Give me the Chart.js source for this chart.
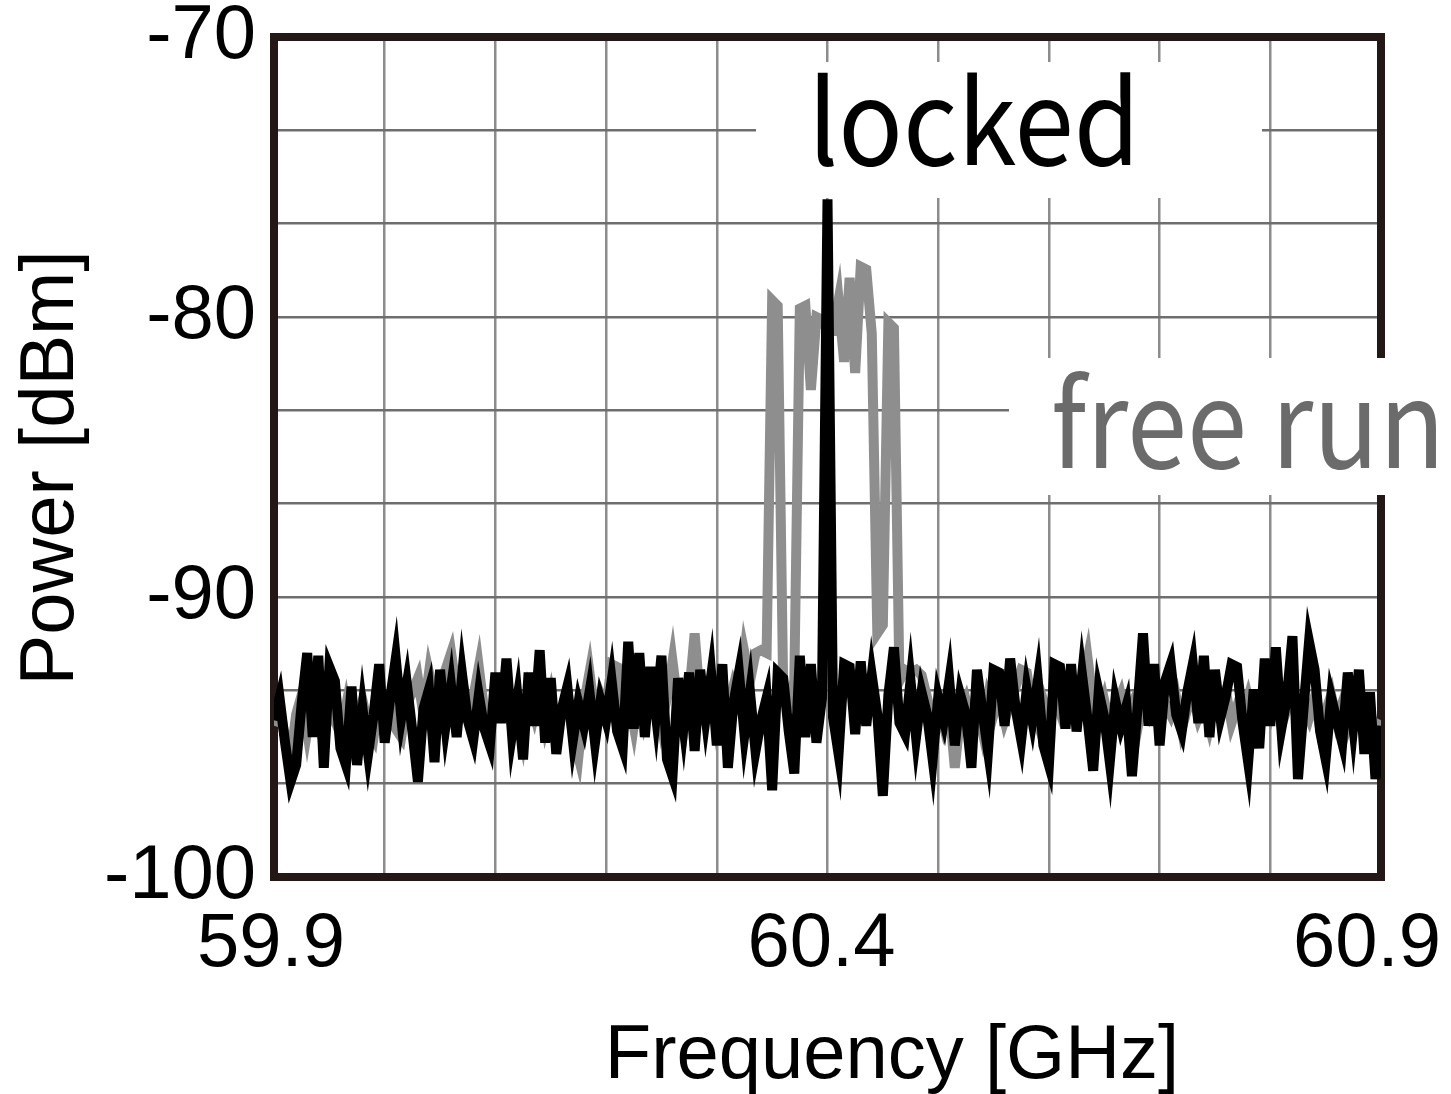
<!DOCTYPE html>
<html>
<head>
<meta charset="utf-8">
<script src="https://cdn.jsdelivr.net/npm/chart.js@4"></script>
<style>html,body{margin:0;padding:0;background:#fff;}canvas{display:block;}</style>
</head>
<body>
<canvas id="c" width="1451" height="1094"></canvas>
<script>
// ---- data ----
const freqStart = 59.9;   // GHz, first sample
const freqStep = 0.005;   // GHz between samples

const lockedPower = [
-94.4,-93.6,-95.2,-96.6,-96.0,-93.8,-92.0,-95.0,-92.1,-96.1,
-92.5,-93.0,-95.4,-96.0,-93.2,-96.0,-94.0,-95.6,-94.2,-92.4,
-95.2,-93.6,-92.2,-94.3,-93.1,-94.8,-96.6,-94.0,-93.3,-95.9,
-92.6,-94.6,-93.2,-95.0,-92.8,-94.4,-95.1,-93.5,-94.7,-95.3,
-92.7,-94.5,-92.2,-94.9,-93.6,-95.8,-92.7,-94.6,-91.9,-95.2,
-92.9,-95.6,-94.0,-93.2,-95.1,-93.8,-94.6,-93.4,-95.2,-93.7,
-94.4,-93.0,-94.8,-95.4,-91.6,-94.7,-92.0,-95.0,-92.5,-94.2,
-92.1,-95.8,-96.4,-92.9,-94.6,-92.7,-95.5,-92.6,-94.3,-92.8,
-95.3,-92.4,-96.1,-93.8,-92.7,-94.9,-93.4,-95.5,-94.4,-93.6,
-96.9,-92.7,-92.9,-94.8,-96.3,-92.1,-95.0,-92.4,-95.2,-93.6,
-75.8,-94.3,-95.6,-92.4,-92.5,-94.9,-92.3,-94.6,-92.8,-94.2,
-97.1,-93.5,-91.8,-94.5,-94.9,-93.0,-95.0,-93.4,-94.2,-95.8,
-93.6,-94.4,-93.0,-95.3,-93.5,-94.2,-96.1,-92.6,-94.1,-95.5,
-92.6,-92.7,-94.6,-92.2,-94.0,-95.1,-93.3,-94.4,-93.0,-95.3,
-96.0,-92.4,-92.5,-94.7,-92.4,-94.8,-92.8,-94.4,-96.2,-93.4,
-94.3,-95.9,-93.7,-94.6,-93.9,-96.4,-94.0,-91.3,-94.6,-92.4,
-95.3,-93.0,-92.4,-94.2,-94.8,-93.4,-92.4,-94.5,-92.1,-95.0,
-92.6,-94.3,-93.5,-92.4,-92.5,-94.5,-95.9,-93.3,-95.4,-92.2,
-94.6,-91.8,-94.7,-93.6,-91.4,-96.5,-94.0,-91.6,-92.6,-94.8,
-95.8,-93.6,-94.4,-95.2,-92.7,-94.6,-92.6,-95.6,-93.4,-96.5,
-94.6
];

const freeRunPower = [
-94.6,-94.0,-95.0,-95.8,-94.2,-93.5,-94.8,-93.6,-94.5,-95.2,
-93.8,-94.4,-94.9,-93.9,-95.1,-94.3,-93.7,-94.6,-95.0,-93.6,
-94.4,-93.9,-94.7,-95.0,-93.8,-93.4,-92.9,-94.2,-92.7,-93.6,
-93.3,-92.6,-92.0,-93.4,-93.0,-94.0,-93.6,-92.5,-94.1,-94.8,
-93.5,-94.0,-93.4,-94.6,-93.7,-94.9,-93.5,-94.2,-93.3,-94.5,
-93.6,-94.8,-94.1,-93.7,-94.9,-95.7,-93.8,-92.7,-94.2,-93.5,
-94.0,-92.4,-92.5,-94.3,-93.5,-94.6,-93.2,-94.4,-93.8,-93.3,
-94.5,-93.6,-92.3,-93.9,-94.8,-93.5,-91.3,-93.8,-94.2,-93.4,
-94.6,-93.7,-94.0,-93.2,-93.8,-92.0,-93.0,-92.0,-91.9,-92.0,
-79.4,-79.6,-93.3,-93.8,-93.0,-79.7,-79.6,-82.6,-80.0,-80.1,
-80.5,-80.5,-79.4,-81.6,-78.6,-82.0,-78.2,-78.3,-80.6,-91.3,
-91.0,-80.2,-80.4,-93.0,-92.6,-92.7,-92.6,-92.8,-93.6,-94.4,
-93.8,-94.6,-93.9,-96.1,-94.2,-93.7,-94.5,-93.9,-94.8,-93.6,
-94.2,-93.5,-94.4,-93.8,-93.2,-92.6,-92.7,-93.9,-94.5,-93.7,
-94.3,-93.5,-94.1,-93.3,-94.0,-93.6,-93.2,-92.2,-93.8,-94.4,
-93.7,-94.6,-94.0,-93.5,-94.4,-93.9,-94.7,-93.6,-94.1,-93.4,
-94.5,-93.8,-94.2,-93.6,-94.7,-94.0,-93.5,-94.3,-93.8,-94.6,
-93.7,-94.1,-93.4,-94.5,-93.9,-94.3,-93.6,-94.4,-94.8,-93.7,
-94.2,-93.5,-94.6,-94.0,-93.4,-94.5,-93.8,-94.3,-93.6,-94.7,
-94.1,-93.5,-94.4,-93.8,-94.6,-94.0,-93.7,-94.5,-94.1,-94.8,
-94.4
];

const xGridValues = [59.9, 60.0, 60.1, 60.2, 60.3, 60.4, 60.5, 60.6, 60.7, 60.8, 60.9];
const xTickLabels = ['59.9', '', '', '', '', '60.4', '', '', '', '', '60.9'];
const yGridValues = [-100, -96.6667, -93.3333, -90, -86.6667, -83.3333, -80, -76.6667, -73.3333, -70];
const yTickLabels = ['-100', '', '', '-90', '', '', '-80', '', '', '-70'];

const seriesNames = ['locked', 'free run'];
const xTitle = 'Frequency [GHz]';
const yTitle = 'Power [dBm]';

// ---- build chart ----
const freqs = lockedPower.map((_, i) => +(freqStart + i * freqStep).toFixed(4));
const toPoints = arr => arr.map((y, i) => ({ x: freqs[i], y: y }));

const AXIS_FONT = '"Liberation Sans", Arial, sans-serif';
const LABEL_FONT = '"Noto Sans CJK JP", "Open Sans", sans-serif';

const framePlugin = {
  id: 'frame',
  beforeDraw(chart) {
    // nudge the outer tick labels like the reference (last one kept inside the page)
    const items = chart.scales.x.getLabelItems();
    const shifts = { '59.9': -3, '60.4': -6, '60.9': -14 };
    items.forEach(it => {
      if (shifts[it.label] !== undefined && !it._shifted) {
        it.options.translation[0] += shifts[it.label];
        it._shifted = true;
      }
    });
  },
  beforeDatasetsDraw(chart) {
    const { ctx, chartArea: a } = chart;
    ctx.save();
    ctx.strokeStyle = '#231815';
    ctx.lineWidth = 8;
    ctx.lineJoin = 'miter';
    ctx.strokeRect(a.left, a.top, a.right - a.left, a.bottom - a.top);
    ctx.restore();
  }
};

function drawFitted(ctx, text, x, baseline, targetWidth, vStretch, color) {
  ctx.font = '100px ' + LABEL_FONT;
  const w = ctx.measureText(text).width;
  const size = 100 * targetWidth / w;
  ctx.save();
  ctx.translate(x, baseline);
  ctx.scale(1, vStretch);
  ctx.font = size.toFixed(2) + 'px ' + LABEL_FONT;
  ctx.fillStyle = color;
  ctx.textAlign = 'left';
  ctx.textBaseline = 'alphabetic';
  ctx.fillText(text, 0, 0);
  ctx.restore();
}

const labelPlugin = {
  id: 'labels',
  afterDraw(chart) {
    const { ctx } = chart;
    ctx.save();
    // white boxes behind annotations
    ctx.fillStyle = '#fff';
    ctx.fillRect(756, 62, 506, 136);
    ctx.fillRect(1009, 358, 442, 137);
    drawFitted(ctx, seriesNames[0], 808, 165, 332, 1.09, '#000');
    drawFitted(ctx, seriesNames[1], 1051, 468, 394, 1.11, '#6b6b6b');
    // axis titles
    ctx.font = '76px ' + AXIS_FONT;
    ctx.fillStyle = '#000';
    ctx.textAlign = 'center';
    ctx.textBaseline = 'alphabetic';
    ctx.fillText(xTitle, 892, 1078);
    ctx.translate(73, 468);
    ctx.rotate(-Math.PI / 2);
    ctx.fillText(yTitle, 0, 0);
    ctx.restore();
  }
};

new Chart(document.getElementById('c').getContext('2d'), {
  type: 'line',
  data: {
    datasets: [
      { label: seriesNames[0], data: toPoints(lockedPower), borderColor: '#000000', borderWidth: 10,
        pointRadius: 0, tension: 0, fill: false, borderJoinStyle: 'miter' },
      { label: seriesNames[1], data: toPoints(freeRunPower), borderColor: '#8e8e8e', borderWidth: 10,
        pointRadius: 0, tension: 0, fill: false, borderJoinStyle: 'miter' }
    ]
  },
  options: {
    responsive: false,
    animation: false,
    devicePixelRatio: 1,
    layout: { padding: { left: 0, top: 37, right: 70, bottom: 0 } },
    plugins: { legend: { display: false }, tooltip: { enabled: false } },
    scales: {
      x: {
        type: 'linear', min: 59.9, max: 60.9,
        afterBuildTicks: s => { s.ticks = xGridValues.map(v => ({ value: v })); },
        afterFit: s => { s.height = 217; s.paddingLeft = 0; s.paddingRight = 0; },
        ticks: { autoSkip: false, maxRotation: 0, minRotation: 0, padding: 30, color: '#000',
                 font: { family: AXIS_FONT, size: 76, lineHeight: 1 },
                 callback: (v, i) => xTickLabels[i] },
        grid: { color: '#8c8c8c', lineWidth: 2.5, drawTicks: false },
        border: { display: false },
        title: { display: false }
      },
      y: {
        type: 'linear', min: -100, max: -70,
        afterBuildTicks: s => { s.ticks = yGridValues.map(v => ({ value: v })); },
        afterFit: s => { s.width = 274; s.paddingTop = 0; s.paddingBottom = 0; },
        ticks: { autoSkip: false, padding: 18, color: '#000',
                 font: { family: AXIS_FONT, size: 76, lineHeight: 1 },
                 callback: (v, i) => yTickLabels[i] },
        grid: { color: '#6e6e6e', lineWidth: 2.5, drawTicks: false },
        border: { display: false },
        title: { display: false }
      }
    }
  },
  plugins: [framePlugin, labelPlugin]
});
</script>
</body>
</html>
